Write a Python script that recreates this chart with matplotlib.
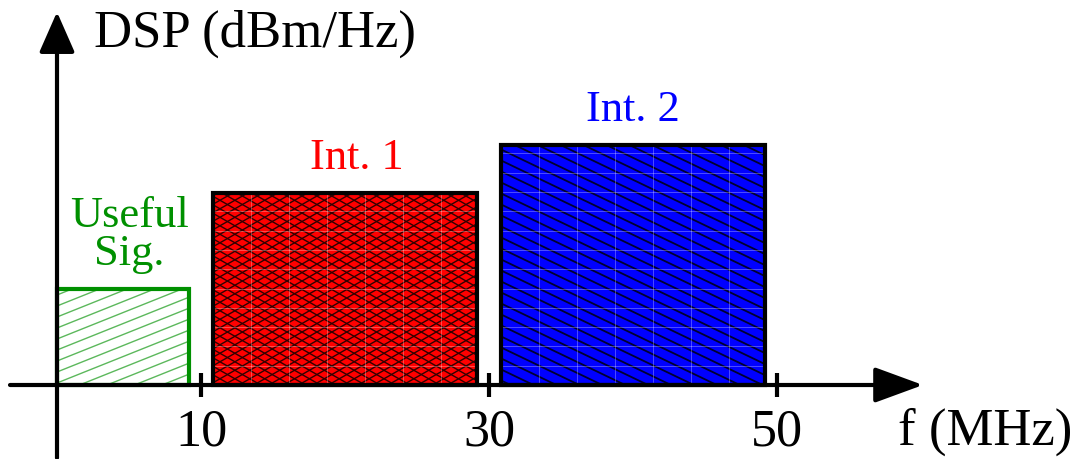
import numpy as np
import matplotlib
matplotlib.use("Agg")
import matplotlib.pyplot as plt
from matplotlib.collections import LineCollection

plt.rcParams['font.family'] = ['Liberation Serif', 'DejaVu Serif']

# bands in MHz, DSP level in arbitrary units
band_names = ['Useful\nSig.', 'Int. 1', 'Int. 2']
band_lo = [0.0, 10.8, 30.8]
band_hi = [9.2, 29.2, 49.2]
band_level = [0.96, 1.92, 2.40]
tick_freqs = [10, 30, 50]

# pixel scale of the picture (px per MHz, px per level unit)
PX_X = 14.4
PX_Y = 100.0
W, H = 1079, 459
X0, Y0 = 57, 385   # pixel position of the origin


def hatch_lines(ax, bar, slope, step, color, lw):
    """ draw slanted lines inside a bar, slope/step given in pixels """
    x0, y0 = bar.get_x(), bar.get_y()
    w, h = bar.get_width(), bar.get_height()
    m = slope * PX_X / PX_Y
    d = step / PX_Y
    span = abs(m) * w
    ks = np.arange(-span - d, h + span + d, d)
    segs = [[(x0, y0 + k), (x0 + w, y0 + k + m * w)] for k in ks]
    lc = LineCollection(segs, colors=color, linewidths=lw, zorder=1.5)
    ax.add_collection(lc)
    lc.set_clip_path(bar)


def seams(ax, bar, dx, dy):
    """ faint tile seams seen in the filled patterns """
    x0, y0 = bar.get_x(), bar.get_y()
    w, h = bar.get_width(), bar.get_height()
    segs = [[(x, y0), (x, y0 + h)] for x in np.arange(x0 + dx / PX_X, x0 + w, dx / PX_X)]
    segs += [[(x0, y), (x0 + w, y)] for y in np.arange(y0 + dy / PX_Y, y0 + h, dy / PX_Y)]
    lc = LineCollection(segs, colors='white', linewidths=0.7, alpha=0.3, zorder=1.6)
    ax.add_collection(lc)
    lc.set_clip_path(bar)


fig = plt.figure(figsize=(W / 100, H / 100), dpi=100)
ax = fig.add_axes([0, 0, 1, 1])
ax.set_xlim(-X0 / PX_X, (W - X0) / PX_X)
ax.set_ylim((Y0 - H) / PX_Y, Y0 / PX_Y)
ax.axis('off')

lo = np.array(band_lo)
hi = np.array(band_hi)
face = ['white', '#ff0000', '#0000ff']
edge = ['#009000', 'black', 'black']
text_col = ['#009000', '#ff0000', '#0000ff']
text_dx = [0.4, 0.8, 0.0]

bars = ax.bar(lo, band_level, width=hi - lo, align='edge',
              color=face, linewidth=0, zorder=1)
ax.bar(lo, band_level, width=hi - lo, align='edge', facecolor='none',
       edgecolor=edge, linewidth=3, zorder=2, joinstyle='miter')

hatch_lines(ax, bars[0], 0.40, 11, '#5cb85c', 1.0)
hatch_lines(ax, bars[1], 0.57, 8.5, '#300000', 1.0)
hatch_lines(ax, bars[1], -0.57, 8.5, '#300000', 1.0)
hatch_lines(ax, bars[2], -0.48, 11, '#000030', 1.3)
seams(ax, bars[1], 38, 19.3)
seams(ax, bars[2], 38, 19.3)

# band labels (baseline of the last line sits just above the bar)
for i, name in enumerate(band_names):
    cx = (band_lo[i] + band_hi[i]) / 2 + text_dx[i]
    ax.text(cx, band_level[i] + 0.24, name, color=text_col[i],
            fontsize=32, ha='center', va='baseline', multialignment='center',
            linespacing=0.93)

# axes with arrows
x_arrow = dict(arrowstyle='-|>,head_length=30,head_width=11', mutation_scale=1,
               color='black', lw=3, shrinkA=0, shrinkB=0)
y_arrow = dict(arrowstyle='-|>,head_length=25,head_width=11', mutation_scale=1,
               color='black', lw=3, shrinkA=0, shrinkB=0)
ax.annotate('', xy=((923 - X0) / PX_X, 0), xytext=((10 - X0) / PX_X, 0),
            arrowprops=x_arrow, zorder=3)
ax.annotate('', xy=(0, (Y0 - 12) / PX_Y), xytext=(0, (Y0 - 458) / PX_Y),
            arrowprops=y_arrow, zorder=3)

for f in tick_freqs:
    ax.plot([f, f], [-0.12, 0.12], color='black', lw=3, zorder=3,
            solid_capstyle='butt')
    ax.text(f, -0.60, str(f), fontsize=37.5, ha='center', va='baseline')

ax.text(2.55, 3.38, 'DSP (dBm/Hz)', fontsize=38, ha='left', va='baseline')
ax.text(58.4, -0.60, 'f (MHz)', fontsize=38, ha='left', va='baseline')

fig.savefig('out.png', dpi=100)
